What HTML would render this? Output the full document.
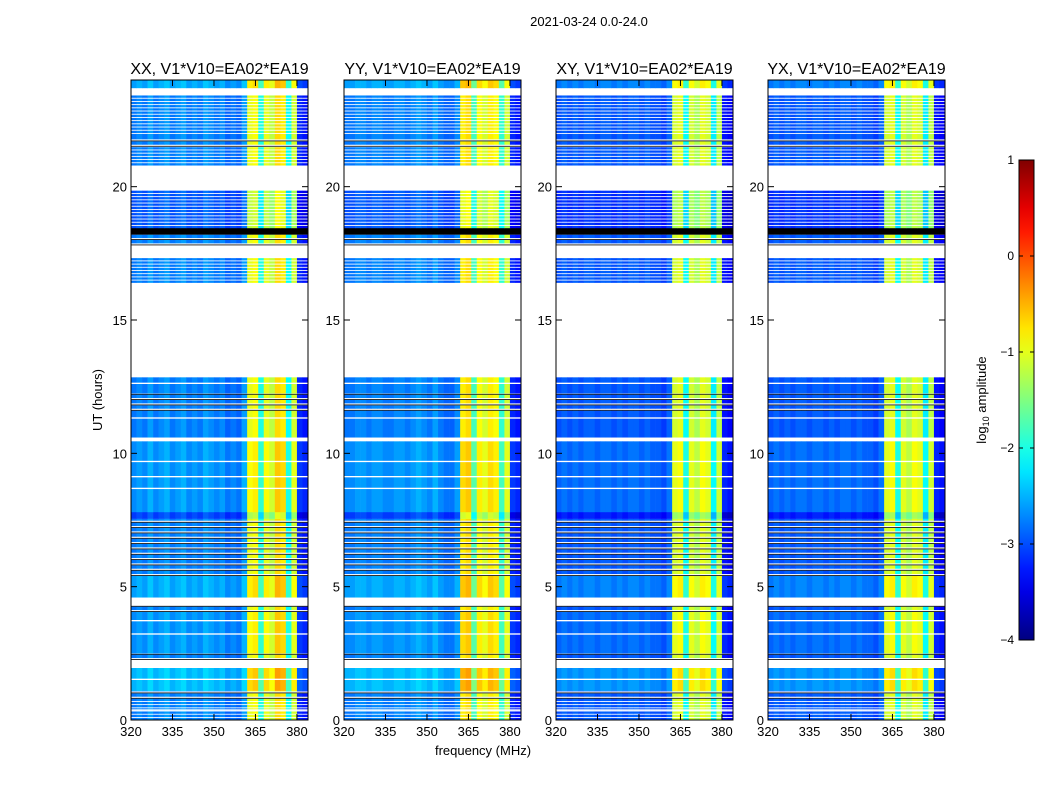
<!DOCTYPE html>
<html><head><meta charset="utf-8">
<style>
body{margin:0;background:#fff;}
svg text{font-family:"Liberation Sans",sans-serif;}
</style></head>
<body>
<svg id="chart" width="1050" height="800" xmlns="http://www.w3.org/2000/svg">
<rect width="1050" height="800" fill="#fff"/>
<text x="589" y="26" font-size="13" text-anchor="middle">2021-03-24 0.0-24.0</text>
<text x="102" y="400" font-size="13" text-anchor="middle" transform="rotate(-90 102 400)">UT (hours)</text>
<text x="483" y="755" font-size="13" text-anchor="middle">frequency (MHz)</text>
<g id="panels"></g>
<g id="cbar"></g>
</svg>
<script>
// ---- data ----
const panelTitles = ["XX, V1*V10=EA02*EA19","YY, V1*V10=EA02*EA19","XY, V1*V10=EA02*EA19","YX, V1*V10=EA02*EA19"];
const freqBinStart = [320,322,324,326,328,330,332,334,336,338,340,342,344,346,348,350,352,354,356,358,360,362,364,366,368,370,372,374,376,378,380,382];
const profileXX = [-2.8,-2.7,-2.8,-2.6,-2.8,-2.7,-2.6,-2.8,-2.7,-2.6,-2.8,-2.7,-2.8,-2.6,-2.7,-2.8,-2.7,-2.9,-2.8,-2.9,-2.6,-1.0,-0.9,-2.0,-1.0,-1.2,-0.7,-0.8,-2.1,-1.1,-3.2,-3.3];
const profileYY = [-2.8,-2.8,-2.7,-2.7,-2.8,-2.7,-2.7,-2.8,-2.8,-2.7,-2.7,-2.8,-2.7,-2.6,-2.7,-2.8,-2.6,-2.8,-2.9,-2.9,-2.7,-0.8,-0.7,-1.8,-0.9,-1.1,-0.8,-0.9,-1.9,-1.1,-3.2,-3.3];
const profileXY = [-3.0,-2.9,-3.0,-2.9,-3.0,-2.9,-2.9,-3.0,-2.9,-2.9,-3.0,-2.9,-3.0,-2.9,-2.9,-3.0,-2.9,-3.0,-3.0,-3.1,-2.9,-1.1,-1.0,-2.1,-1.1,-1.3,-1.0,-1.1,-2.2,-1.2,-3.3,-3.4];
const profileYX = [-3.0,-2.9,-3.0,-2.9,-3.0,-2.9,-2.9,-3.0,-2.9,-2.9,-3.0,-2.9,-3.0,-2.9,-2.9,-3.0,-2.9,-3.0,-3.0,-3.1,-2.9,-1.1,-1.0,-2.1,-1.1,-1.3,-1.0,-1.1,-2.2,-1.2,-3.3,-3.4];
const segStart = [0,0.8,1.1,1.95,2.25,2.5,4.05,4.3,4.6,5.4,7.55,7.8,10.45,10.6,11.6,12.25,12.85,16.4,17.35,17.8,18.2,18.45,19.9,20.8,21.5,21.9,23.45,23.7];
const segEnd   = [0.8,1.1,1.95,2.25,2.5,4.05,4.3,4.6,5.4,7.55,7.8,10.45,10.6,11.6,12.25,12.85,16.4,17.35,17.8,18.2,18.45,19.9,20.8,21.5,21.9,23.45,23.7,24];
const segKind  = ['s','k','d','w','k','d','k','w','d','k','d','d','w','d','k','d','w','s','w','k','b','s','w','s','k','s','w','d'];
const segLevel = [0,0,0.3,0,0,0.1,0,0,0.2,0,-0.3,0.1,0,0,0,0,0,0,0,0,0,-0.2,0,0,0,0,0,0.2];
const whiteLineHours = [0.35,1.5,3.2,3.7,8.66,9.1,9.67,11.3,12.6];
const xTicks = [320,335,350,365,380];
const yTicks = [0,5,10,15,20];
const cbarTicks = [1,0,-1,-2,-3,-4];

// ---- helpers ----
const NS="http://www.w3.org/2000/svg";
function jet(v){
  let t=(v+4)/5; t=Math.max(0,Math.min(1,t));
  const r=Math.max(0,Math.min(1,1.5-Math.abs(4*t-3)));
  const g=Math.max(0,Math.min(1,1.5-Math.abs(4*t-2)));
  const b=Math.max(0,Math.min(1,1.5-Math.abs(4*t-1)));
  return `rgb(${Math.round(r*255)},${Math.round(g*255)},${Math.round(b*255)})`;
}
function mk(tag,attrs,parent){const e=document.createElementNS(NS,tag);for(const k in attrs)e.setAttribute(k,attrs[k]);parent.appendChild(e);return e;}
const panelX=[131,344,556,768], PW=177, PT=80, PB=720;
const profiles=[profileXX,profileYY,profileXY,profileYX];
const panelsG=document.getElementById('panels');

panelX.forEach((px,pi)=>{
  const xs=f=>px+(f-320)*PW/64;
  const ys=h=>PB-h*(PB-PT)/24;
  const g=mk('g',{},panelsG);
  
  
  const prof=profiles[pi];
  function rowRects(h0,h1,lev){
    freqBinStart.forEach((f,fi)=>{
      const r=mk('rect',{x:xs(f),y:ys(h1),width:xs(f+2)-xs(f)+0.3,height:ys(h0)-ys(h1)+0.2,fill:jet(prof[fi]+lev)},g);
      
      
    });
  }
  function band(h0,h1,color){
    const r=mk('rect',{x:px,y:ys(h1),width:PW,height:Math.max(0.8,ys(h0)-ys(h1)),fill:color},g);
    
    
  }
  segStart.forEach((s,si)=>{
    const e=segEnd[si],k=segKind[si],lv=segLevel[si];
    if(k==='w'){return;}
    if(k==='b'){band(s,e,'#000');return;}
    if(k==='d'){rowRects(s,e,lv);return;}
    if(k==='s'){
      for(let h=s;h<e-0.01;h+=0.12){rowRects(h,Math.min(e,h+0.08),lv);}
      return;
    }
    if(k==='k'){
      for(let h=s;h<e-0.01;h+=0.2){band(h,h+0.03,'#000');rowRects(h+0.08,Math.min(e,h+0.2),lv);}
    }
  });
  whiteLineHours.forEach(h=>band(h,h+0.05,'#fff'));
  const fr=mk('rect',{x:px,y:PT,width:PW,height:PB-PT,fill:'none',stroke:'#000','stroke-width':1},g);
  
  
  const t=mk('text',{x:px+PW/2,y:74,'font-size':16,'text-anchor':'middle'},g);
  t.textContent=panelTitles[pi];
  
  
  xTicks.forEach(v=>{
    const x=xs(v);
    mk('line',{x1:x,x2:x,y1:PB,y2:PB-6,stroke:'#000'},g);
    mk('line',{x1:x,x2:x,y1:PT,y2:PT+6,stroke:'#000'},g);
    const tl=mk('text',{x:x,y:PB+16,'font-size':13,'text-anchor':'middle'},g);
    tl.textContent=v;
    
    
  });
  yTicks.forEach(v=>{
    const y=ys(v);
    mk('line',{x1:px,x2:px+6,y1:y,y2:y,stroke:'#000'},g);
    mk('line',{x1:px+PW,x2:px+PW-6,y1:y,y2:y,stroke:'#000'},g);
    const tl=mk('text',{x:px-4,y:y+5,'font-size':13,'text-anchor':'end'},g);
    tl.textContent=v;
    
    
  });
});

// colorbar
const cb=document.getElementById('cbar');
const CX=1019,CW=15,CT=160,CB=640;
const defs=mk('defs',{},cb);
const lg=mk('linearGradient',{id:'jetg',x1:0,y1:1,x2:0,y2:0},defs);
for(let i=0;i<=20;i++){mk('stop',{offset:i/20,'stop-color':jet(-4+5*i/20)},lg);}
const cr=mk('rect',{x:CX,y:CT,width:CW,height:CB-CT,fill:'url(#jetg)',stroke:'#000'},cb);


cbarTicks.forEach(v=>{
  const y=CB-(v+4)/5*(CB-CT);
  mk('line',{x1:CX,x2:CX+4,y1:y,y2:y,stroke:'#000'},cb);
  mk('line',{x1:CX+CW,x2:CX+CW-4,y1:y,y2:y,stroke:'#000'},cb);
  const tl=mk('text',{x:CX-5,y:y+4,'font-size':12,'text-anchor':'end'},cb);
  tl.textContent=v<0?'\u2212'+(-v):String(v);
  
  
});
const cl=mk('text',{x:986,y:400,'font-size':13,'text-anchor':'middle',transform:'rotate(-90 986 400)'},cb);
cl.innerHTML='log<tspan font-size="9" dy="3">10</tspan><tspan dy="-3"> amplitude</tspan>';


</script>
</body></html>
